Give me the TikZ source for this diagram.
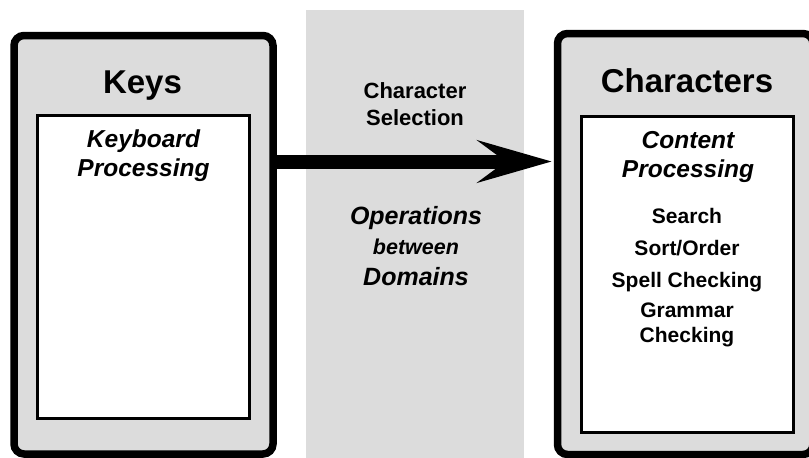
\documentclass[tikz,border=0pt]{standalone}
\usepackage{fontspec}
\setmainfont{Liberation Sans}
\usetikzlibrary{arrows.meta}
\definecolor{boxgray}{RGB}{220,220,220}
\begin{document}
\begin{tikzpicture}[x=1pt,y=-1pt,
  outerbox/.style={draw=black, line width=7.5pt, fill=boxgray, rounded corners=10pt, inner sep=0pt},
  innerbox/.style={draw=black, line width=3pt, fill=white, inner sep=0pt},
  title/.style={anchor=base, inner sep=0pt, font=\bfseries\fontsize{33}{36}\selectfont},
  heading/.style={anchor=base, inner sep=0pt, align=center, font=\bfseries\itshape\fontsize{24.5}{29}\selectfont},
  label/.style={anchor=base, inner sep=0pt, align=center, font=\bfseries\fontsize{21}{25}\selectfont},
  bigarrow/.style={line width=14pt, -{Stealth[length=74pt, width=42pt, inset=28pt]}}
]
\clip (0,0) rectangle (809,458);
\fill[boxgray] (306,10) rectangle (524,458);

\node[outerbox, minimum width=259pt, minimum height=418.5pt] (keys) at (143.5,244.75) {};
\node[outerbox, minimum width=255.5pt, minimum height=421pt] (chars) at (685.25,244) {};
\node[innerbox, minimum width=211.5pt, minimum height=303pt] (kin) at (143.25,266.5) {};
\node[innerbox, minimum width=212.5pt, minimum height=315.5pt] (cin) at (687.25,274.25) {};

\node[title] (keystitle) at (142.5,93) {Keys};
\node[title] (charstitle) at (687,92) {Characters};
\node[heading] (kproc) at (143.5,176) {Keyboard\\Processing};
\node[heading] (cproc) at (688,177) {Content\\Processing};

\node[label, font=\bfseries\fontsize{22}{27}\selectfont] (sel) at (415,125) {Character\\Selection};
\node[heading, font=\bfseries\itshape\fontsize{25}{30.5}\selectfont] (ops) at (416,285) {Operations\\{\fontsize{21.5}{30.5}\selectfont between}\\Domains};

\node[label] (search) at (687,223) {Search};
\node[label] (sort) at (687,255) {Sort/Order};
\node[label] (spell) at (687,287) {Spell Checking};
\node[label] (grammar) at (687,342) {Grammar\\Checking};

\draw[bigarrow, shorten >=2pt] (keys.east |- 0,161.5) -- (chars.west |- 0,161.5);
\end{tikzpicture}
\end{document}
